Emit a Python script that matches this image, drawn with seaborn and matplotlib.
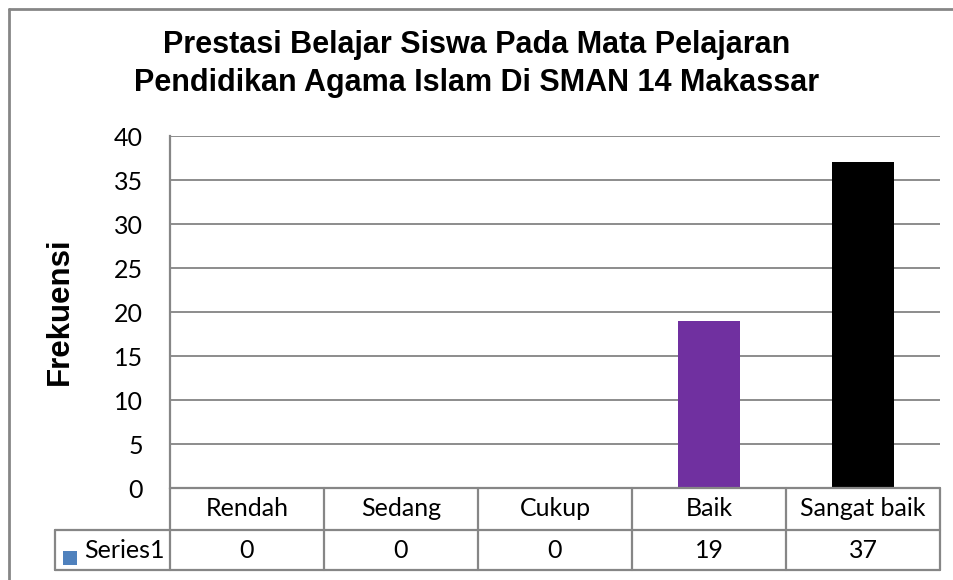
import matplotlib
matplotlib.use("Agg")
import matplotlib.pyplot as plt
import seaborn as sns
from matplotlib.lines import Line2D
from matplotlib.patches import Rectangle

categories = ["Rendah", "Sedang", "Cukup", "Baik", "Sangat baik"]
values = [0, 0, 0, 19, 37]
bar_colors = ["#4F81BD", "#4F81BD", "#4F81BD", "#7030A0", "#000000"]
series_name = "Series1"
series_color = "#4F81BD"
title = "Prestasi Belajar Siswa Pada Mata Pelajaran\nPendidikan Agama Islam Di SMAN 14 Makassar"
ylabel = "Frekuensi"
yticks = [0, 5, 10, 15, 20, 25, 30, 35, 40]

sns.set_theme(style="white")
plt.rcParams['font.family'] = ['Lato', 'DejaVu Sans']

W, H = 954, 580
fig = plt.figure(figsize=(9.54, 5.8), dpi=100)


def fx(x):
    return x / W


def fy(y):
    return 1 - y / H


FS = 18
L, R, T, B = 170, 940, 136, 488
ax = fig.add_axes([fx(L), fy(B), fx(R) - fx(L), fy(T) - fy(B)])
sns.barplot(x=categories, y=values, hue=categories, palette=bar_colors,
            width=0.4, legend=False, ax=ax, saturation=1, linewidth=0)
ax.set_xlim(-0.5, len(categories) - 0.5)
ax.set_ylim(0, 40)
ax.set_yticks(yticks)
ax.yaxis.grid(True, color="#8C8C8C", linewidth=1.4)
ax.set_axisbelow(True)
ax.set_xticks([])
ax.set_xlabel("")
ax.set_ylabel("")
for s in ["top", "right", "bottom"]:
    ax.spines[s].set_visible(False)
ax.spines["left"].set_color("#868686")
ax.spines["left"].set_linewidth(1.6)
ax.tick_params(axis='y', length=0, pad=19.5, labelsize=FS, colors='black')

line_kw = dict(color="#868686", linewidth=1.6, transform=fig.transFigure)


def hline(x0, x1, y):
    fig.add_artist(Line2D([fx(x0), fx(x1)], [fy(y), fy(y)], **line_kw))


def vline(x, y0, y1):
    fig.add_artist(Line2D([fx(x), fx(x)], [fy(y0), fy(y1)], **line_kw))


# data table
r0, r1, r2 = 488, 530, 570
legend_left = 55
colw = (R - L) / len(categories)
hline(L, R, r0)
hline(legend_left, R, r1)
hline(legend_left, R, r2)
vline(legend_left, r1, r2)
for i in range(len(categories) + 1):
    vline(L + i * colw, r0, r2)
for i, (c, v) in enumerate(zip(categories, values)):
    cx = L + (i + 0.5) * colw
    fig.text(fx(cx), fy((r0 + r1) / 2), c, ha="center", va="center", fontsize=FS, color="black")
    fig.text(fx(cx), fy((r1 + r2) / 2), str(v), ha="center", va="center", fontsize=FS, color="black")
fig.add_artist(Rectangle((fx(63), fy(565)), fx(77) - fx(63), fy(551) - fy(565),
                         transform=fig.transFigure, facecolor=series_color, edgecolor="none"))
fig.text(fx(84), fy((r1 + r2) / 2), series_name, ha="left", va="center", fontsize=FS, color="black")

# title and y label
fig.text(0.5, fy(64), title, ha="center", va="center", fontsize=22, fontweight="bold",
         family=["Liberation Sans", "DejaVu Sans"], linespacing=1.32, color="black")
fig.text(fx(60), fy(311), ylabel, ha="center", va="center", rotation=90, fontsize=22.5,
         fontweight="bold", family=["Liberation Sans", "DejaVu Sans"], color="black")

# outer chart frame
frame_kw = dict(color="#868686", linewidth=2, transform=fig.transFigure)
fig.add_artist(Line2D([fx(9), fx(9)], [fy(9), fy(H + 5)], **frame_kw))
fig.add_artist(Line2D([fx(9), fx(W + 5)], [fy(9), fy(9)], **frame_kw))

fig.savefig("out.png", dpi=100)
